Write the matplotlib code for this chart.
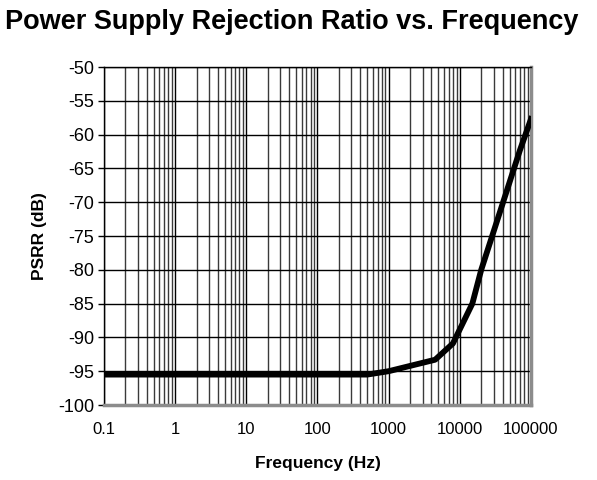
import numpy as np
import matplotlib
matplotlib.use("Agg")
import matplotlib.pyplot as plt
from matplotlib.ticker import LogLocator, FixedLocator, NullFormatter

plt.rcParams['font.family'] = ['Liberation Sans', 'DejaVu Sans']
plt.rcParams['axes.unicode_minus'] = False

# PSRR curve
freq = [0.1, 1, 10, 100, 500, 1000, 4500, 8000, 15000, 20000, 70000, 100000]
psrr = [-95.5, -95.5, -95.5, -95.5, -95.5, -95.0, -93.3, -90.9, -85.0, -80.0, -62.3, -57.7]

xticks = [0.1, 1, 10, 100, 1000, 10000, 100000]
xticklabels = ["0.1", "1", "10", "100", "1000", "10000", "100000"]
yticks = list(range(-100, -45, 5))

fig = plt.figure(figsize=(5.97, 4.80), dpi=100)
ax = fig.add_axes([0.1742, 0.15625, 0.7152, 0.70415])

ax.set_xscale("log")
ax.set_xlim(0.1, 100000)
ax.set_ylim(-100, -50)

# grid
ax.xaxis.set_major_locator(FixedLocator(xticks))
ax.xaxis.set_minor_locator(LogLocator(base=10, subs=np.arange(2, 10)))
ax.xaxis.set_minor_formatter(NullFormatter())
ax.set_yticks(yticks)
ax.grid(True, which="major", axis="both", color="black", linewidth=1.0)
ax.grid(True, which="minor", axis="x", color="#3a3a3a", linewidth=1.0)
ax.set_axisbelow(True)

ax.plot(freq, psrr, color="black", linewidth=4.2, solid_joinstyle="round", zorder=3)

ax.set_xticklabels(xticklabels)
ax.tick_params(axis="x", which="both", length=0, pad=12, labelsize=12)
ax.tick_params(axis="y", length=4, width=1, direction="out", pad=3, labelsize=13)

for side in ["left", "top"]:
    ax.spines[side].set_color("black")
    ax.spines[side].set_linewidth(1.0)
for side in ["right", "bottom"]:
    ax.spines[side].set_color("#8c8c8c")
    ax.spines[side].set_linewidth(2.5)

ax.set_xlabel("Frequency (Hz)", fontsize=12.5, fontweight="bold", labelpad=14)
ax.set_ylabel("PSRR (dB)", fontsize=12.5, fontweight="bold", labelpad=8)
fig.text(0.488, 0.955, "Power Supply Rejection Ratio vs. Frequency",
         ha="center", va="center", fontsize=19.5, fontweight="bold")

fig.savefig("out.png", dpi=100)
